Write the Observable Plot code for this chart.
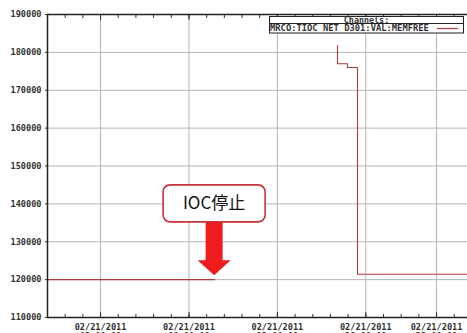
<!DOCTYPE html>
<html><head><meta charset="utf-8">
<script src="https://cdn.jsdelivr.net/npm/d3@7"></script>
<script src="https://cdn.jsdelivr.net/npm/@observablehq/plot@0.6"></script>
<style>body{margin:0;background:#fff;overflow:hidden}</style>
</head><body><div id="chart"></div>
<script>
// Series: MRCO:TIOC NET D301:VAL:MEMFREE (hours on 02/21/2011)
const hoursBefore = [0, 9.45];
const valuesBefore = [120000, 120000];
const hoursAfter = [16.4, 16.4, 16.96, 17.53, 23.75];
const valuesAfter = [181800, 177000, 176000, 121400, 121400];
// Axis ticks
const tickHours = [3, 8, 13, 18, 22];
const tickDate = "02/21/2011";
const tickTimes = ["03:00:00", "08:00:00", "13:00:00", "18:00:00", "22:00:00"];
const yTicks = [110000, 120000, 130000, 140000, 150000, 160000, 170000, 180000, 190000];
// Legend & annotation
const legendTitle = "Channels:";
const channelName = "MRCO:TIOC NET D301:VAL:MEMFREE";
const annLabel = "IOC停止";
const annHour = 9.45;
const annValue = 140000;
const annTipValue = 121000;

const data = [
  ...hoursBefore.map((h, i) => ({h, v: valuesBefore[i], seg: "before"})),
  ...hoursAfter.map((h, i) => ({h, v: valuesAfter[i], seg: "after"}))
];
const lineColor = "#b23a3a";
const mono = "'DejaVu Sans Mono', monospace";

function legendMark(index, scales, values, dims) {
  const g = d3.create("svg:g");
  const w = 194, left = dims.width - 198, top = 17;
  g.append("rect").attr("x", left + 0.5).attr("y", top - 0.5).attr("width", w).attr("height", 16.5)
    .attr("fill", "#fff").attr("stroke", "#222").attr("stroke-width", 1);
  g.append("line").attr("x1", left + 0.5).attr("x2", left + w + 0.5).attr("y1", top + 6.5).attr("y2", top + 6.5)
    .attr("stroke", "#222");
  g.append("text").attr("x", left + w / 2 + 0.5).attr("y", top + 5.8).attr("text-anchor", "middle")
    .attr("font-family", mono).attr("font-weight", "bold").attr("font-size", 8.4).attr("fill", "#333").text(legendTitle);
  g.append("text").attr("x", left + 1).attr("y", top + 14.3).attr("text-anchor", "start")
    .attr("font-family", mono).attr("font-weight", "bold").attr("font-size", 8.8).attr("fill", "#333").text(channelName);
  g.append("line").attr("x1", left + 168).attr("x2", left + 189).attr("y1", top + 11.5).attr("y2", top + 11.5)
    .attr("stroke", lineColor).attr("stroke-width", 1.2);
  return g.node();
}

function calloutMark(index, scales, values, dims) {
  const g = d3.create("svg:g");
  const cx = scales.x(annHour), cy = scales.y(annValue);
  const tx = cx, ty = scales.y(annTipValue);
  const bw = 102, bh = 37;
  const boxBottom = cy + bh / 2;
  const headH = 15, shaftW = 8.5, headW = 16.5;
  const pts = [
    [tx - shaftW, boxBottom], [tx + shaftW, boxBottom],
    [tx + shaftW, ty - headH], [tx + headW, ty - headH],
    [tx, ty], [tx - headW, ty - headH], [tx - shaftW, ty - headH]
  ];
  g.append("polygon").attr("points", pts.map(p => p.join(",")).join(" ")).attr("fill", "#ee1c1c");
  g.append("rect").attr("x", cx - bw / 2).attr("y", cy - bh / 2).attr("width", bw).attr("height", bh)
    .attr("rx", 7).attr("fill", "#fff").attr("stroke", "#c8323a").attr("stroke-width", 1.6);
  g.append("text").attr("x", cx).attr("y", cy + 6).attr("text-anchor", "middle")
    .attr("font-family", "'Noto Sans CJK JP', 'Noto Sans', sans-serif").attr("font-size", 17).attr("fill", "#111").text(annLabel);
  return g.node();
}

const chart = Plot.plot({
  width: 467,
  height: 333,
  marginLeft: 47,
  marginTop: 14,
  marginBottom: 16,
  marginRight: 0,
  style: {background: "#fff", fontFamily: mono},
  x: {domain: [0, 23.75], label: null},
  y: {domain: [110000, 190000], label: null},
  marks: [
    Plot.gridY(yTicks, {stroke: "#b5b5b5", strokeOpacity: 1, strokeWidth: 1}),
    Plot.gridX(tickHours, {stroke: "#b5b5b5", strokeOpacity: 1, strokeWidth: 1}),
    Plot.line(data, {x: "h", y: "v", z: "seg", curve: "step-after", stroke: lineColor, strokeWidth: 1.1}),
    Plot.axisY(yTicks, {label: null, tickSize: 2, tickPadding: 4, tickFormat: d3.format("d"), fontSize: 8.6, fontWeight: "bold", fill: "#333", stroke: "#333"}),
    Plot.axisX(d3.range(0, 24, 1), {label: null, anchor: "bottom", tickSize: -3, text: null, stroke: "#333"}),
    Plot.axisX(tickHours, {label: null, anchor: "bottom", tickSize: -5, tickPadding: 11, stroke: "#333",
      tickFormat: (d, i) => tickDate + "\n" + tickTimes[i], fontSize: 8.6, fontWeight: "bold", fill: "#333", lineHeight: 1.05}),
    Plot.axisX(d3.range(0, 24, 1), {label: null, anchor: "top", tickSize: -3, text: null, stroke: "#333"}),
    Plot.axisX(tickHours, {label: null, anchor: "top", tickSize: -5, text: null, stroke: "#333"}),
    Plot.ruleX([0], {stroke: "#222", strokeWidth: 1.5}),
    Plot.ruleY([110000], {stroke: "#222", strokeWidth: 1.5}),
    Plot.ruleY([190000], {stroke: "#222", strokeWidth: 1.5}),
    calloutMark,
    legendMark
  ]
});
document.getElementById("chart").append(chart);
</script></body></html>
